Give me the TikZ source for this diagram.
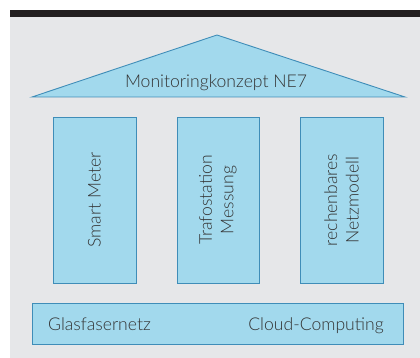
\documentclass[tikz,border=0pt]{standalone}
\usepackage{fontspec}
\setmainfont{Lato Light}
\begin{document}
\begin{tikzpicture}[x=1pt,y=-1pt,
  part/.style={draw=boxline,fill=boxfill,line width=0.9pt},
  lbl/.style={text=txt,font=\fontsize{17.6}{21}\selectfont,inner sep=0pt},
  pillarlbl/.style={lbl,rotate=90,align=center,font=\fontsize{17.6}{21.5}\selectfont}]
\definecolor{boxfill}{HTML}{A2D9ED}
\definecolor{boxline}{HTML}{3F8DB8}
\definecolor{panel}{HTML}{E6E7E9}
\definecolor{bar}{HTML}{231F20}
\definecolor{txt}{HTML}{333333}
\useasboundingbox (0,0) rectangle (420,358);
\fill[white] (0,0) rectangle (420,358);
\fill[panel] (9.5,17) rectangle (420,357.5);
\fill[bar] (9.5,10) rectangle (420,17.5);
% roof
\coordinate (rl) at (32,97);
\coordinate (rt) at (217,35);
\coordinate (rr) at (405,97);
\draw[part,line join=miter] (rl) -- (rt) -- (rr) -- cycle;
\node[lbl,anchor=base] (roof) at (216,88) {Monitoringkonzept NE7};
% pillars
\node[part,minimum width=83pt,minimum height=166pt,inner sep=0pt] (p1) at (94.5,200) {};
\node[part,minimum width=82pt,minimum height=166pt,inner sep=0pt] (p2) at (218,200) {};
\node[part,minimum width=83pt,minimum height=166pt,inner sep=0pt] (p3) at (341.5,200) {};
\node[pillarlbl] (t1) at (p1.center) {Smart Meter};
\node[pillarlbl] (t2) at (p2.center) {Trafostation\\Messung};
\node[pillarlbl] (t3) at (p3.center) {rechenbares\\Netzmodell};
% base
\node[part,minimum width=371pt,minimum height=41pt,inner sep=0pt] (base) at (217.5,323.5) {};
\node[lbl,anchor=base west] (g) at (48,330) {Glasfasernetz};
\node[lbl,anchor=base east] (c) at (384,330) {Cloud-Computing};
\end{tikzpicture}
\end{document}
